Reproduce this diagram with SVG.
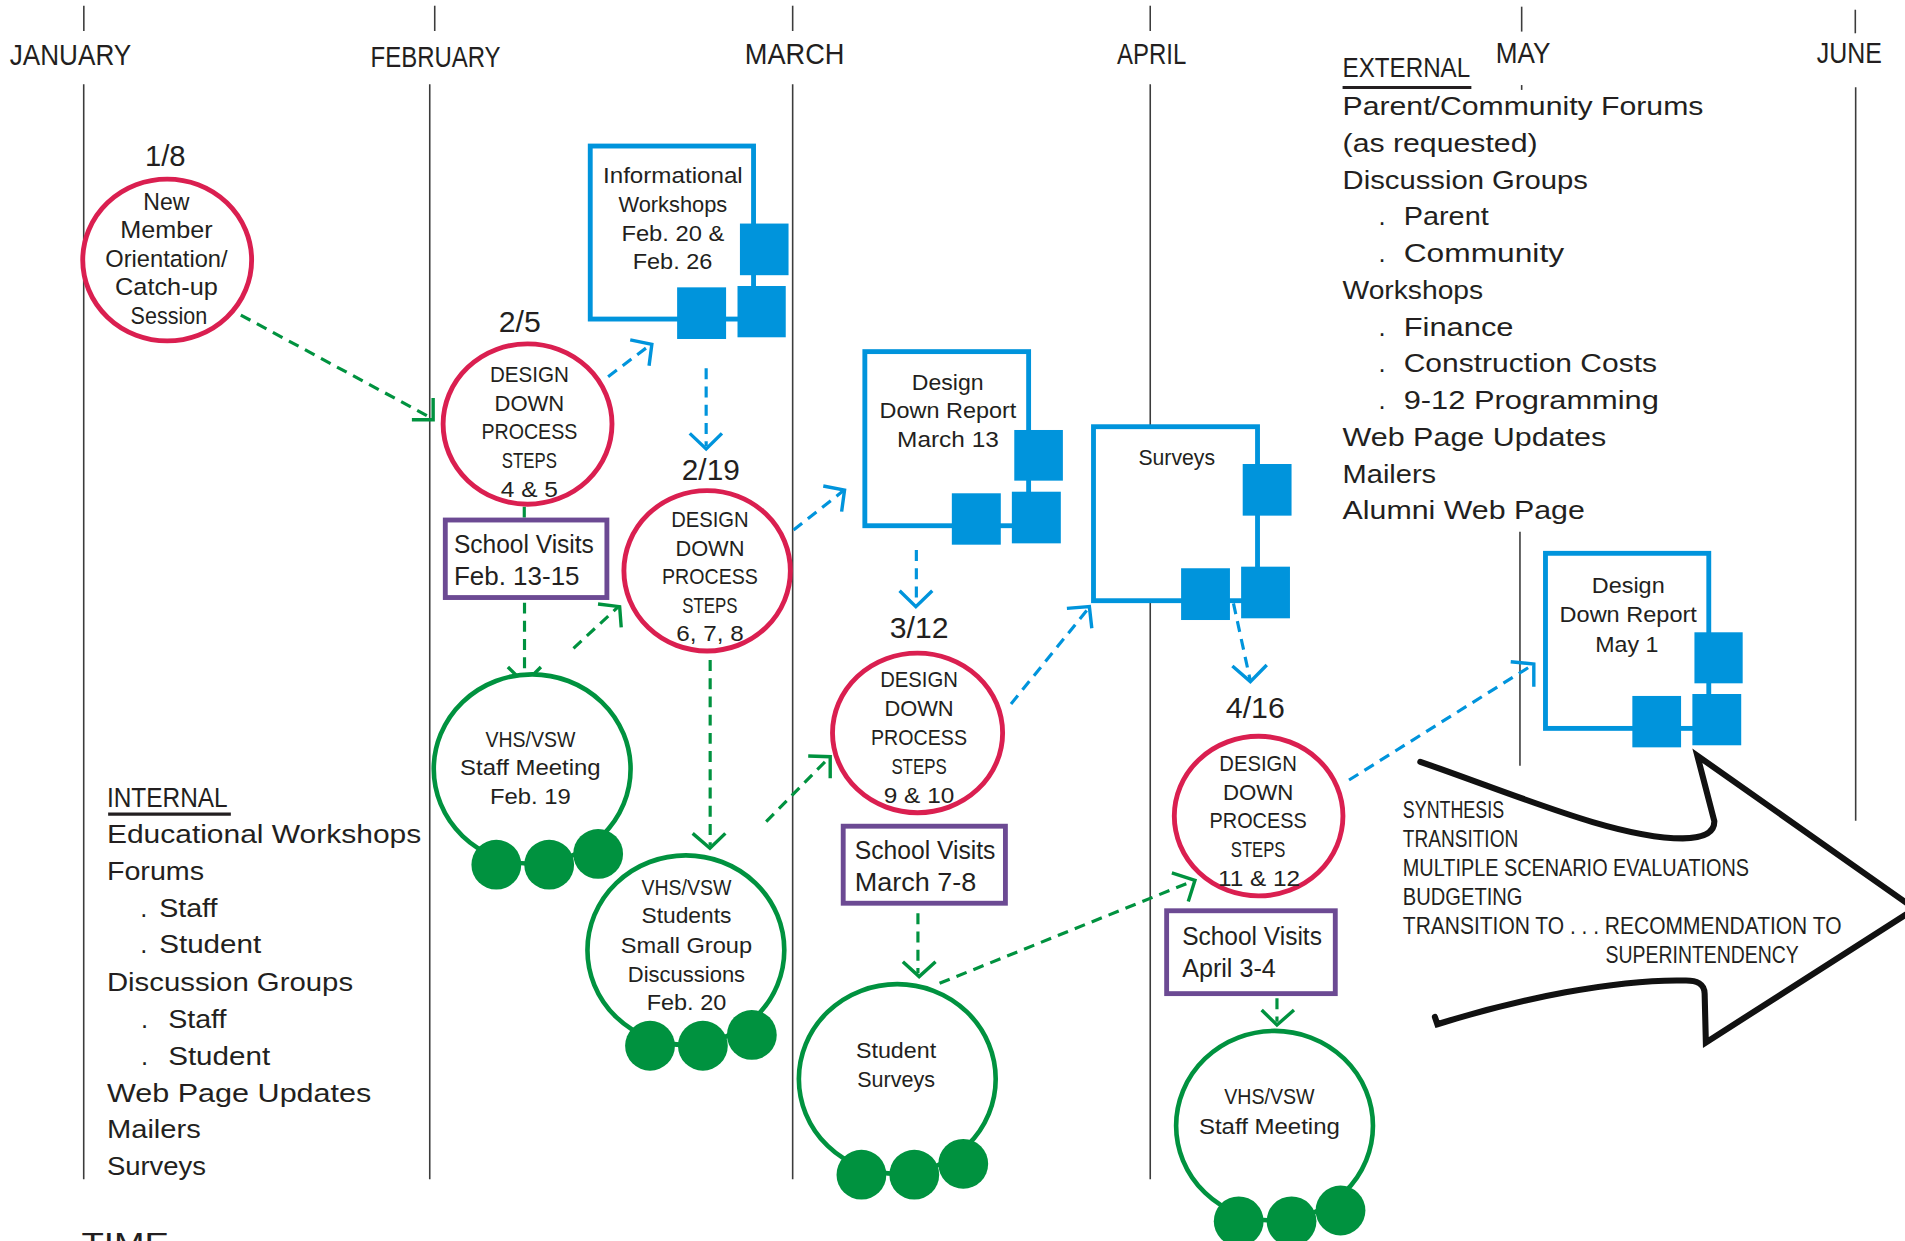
<svg xmlns="http://www.w3.org/2000/svg" width="1905" height="1241" viewBox="0 0 1905 1241">
<style>
.t{font-family:"Liberation Sans",Arial,Helvetica,sans-serif;fill:#231f20}
.c{text-anchor:middle}
.m{font-size:25px}
.l{font-size:21px}
.s{font-size:18px}
.a{font-size:19px}
.red{fill:#fff;stroke:#da1f50;stroke-width:4}
.grn{fill:#fff;stroke:#00923f;stroke-width:3.8}
.bead{fill:#00923f}
.blu{fill:#fff;stroke:#0094dc;stroke-width:4}
.sq{fill:#0094dc}
.pur{fill:#fff;stroke:#6c4a93;stroke-width:4}
.vl{stroke:#3c3c3c;stroke-width:1.3;fill:none}
.ul{stroke:#231f20;stroke-width:2.6}
.dg{fill:none;stroke:#00923f;stroke-width:2.6;stroke-dasharray:9 6}
.db{fill:none;stroke:#0094dc;stroke-width:2.6;stroke-dasharray:9 6}
.hg{fill:none;stroke:#00923f;stroke-width:2.8}
.hb{fill:none;stroke:#0094dc;stroke-width:2.8}
.big{fill:none;stroke:#111;stroke-width:5;stroke-linejoin:miter;stroke-linecap:round}
</style>
<rect width="1905" height="1241" fill="#fff"/>
<g transform="scale(1.215)">
<g id="timeline">
<line class="vl" x1="69" y1="4.7" x2="69" y2="25.5"/>
<line class="vl" x1="357.8" y1="4.7" x2="357.8" y2="25.5"/>
<line class="vl" x1="652.4" y1="4.7" x2="652.4" y2="25.5"/>
<line class="vl" x1="946.7" y1="4.7" x2="946.7" y2="25.5"/>
<line class="vl" x1="1252.4" y1="5.5" x2="1252.4" y2="26"/>
<line class="vl" x1="1527" y1="8" x2="1527" y2="27.4"/>
<line class="vl" x1="68.9" y1="69.4" x2="68.9" y2="970.6"/>
<line class="vl" x1="353.7" y1="69.4" x2="353.7" y2="970.6"/>
<line class="vl" x1="652.4" y1="69.4" x2="652.4" y2="970.6"/>
<line class="vl" x1="946.7" y1="69.4" x2="946.7" y2="970.6"/>
<line class="vl" x1="1527.3" y1="71.9" x2="1527.3" y2="675.5"/>
<line class="vl" x1="1252.4" y1="70" x2="1252.4" y2="74"/>
<line class="vl" x1="1251" y1="437.6" x2="1251" y2="630.2"/>
<text class="t m" x="8" y="53.5" textLength="100" lengthAdjust="spacingAndGlyphs">JANUARY</text>
<text class="t m" x="305" y="55" textLength="107" lengthAdjust="spacingAndGlyphs">FEBRUARY</text>
<text class="t m" x="613" y="52.7" textLength="82" lengthAdjust="spacingAndGlyphs">MARCH</text>
<text class="t m" x="919.4" y="52.7" textLength="57" lengthAdjust="spacingAndGlyphs">APRIL</text>
<text class="t m" x="1231" y="52.1" textLength="45" lengthAdjust="spacingAndGlyphs">MAY</text>
<text class="t m" x="1495.3" y="52" textLength="53.5" lengthAdjust="spacingAndGlyphs">JUNE</text>
<text class="t m" x="67" y="1031.6" textLength="72" lengthAdjust="spacingAndGlyphs">TIME</text>
</g>
<g id="external-list">
<text class="t" x="1105" y="63.6" font-size="23" textLength="105" lengthAdjust="spacingAndGlyphs">EXTERNAL</text>
<line class="ul" x1="1105" y1="72" x2="1211" y2="72"/>
<text class="t l" x="1105" y="94.7" textLength="297" lengthAdjust="spacingAndGlyphs">Parent/Community Forums</text>
<text class="t l" x="1105" y="125" textLength="160.5" lengthAdjust="spacingAndGlyphs">(as requested)</text>
<text class="t l" x="1105" y="155.2" textLength="202" lengthAdjust="spacingAndGlyphs">Discussion Groups</text>
<text class="t l" x="1134.5" y="185.5">.</text>
<text class="t l" x="1155.3" y="185.5" textLength="70" lengthAdjust="spacingAndGlyphs">Parent</text>
<text class="t l" x="1134.5" y="215.7">.</text>
<text class="t l" x="1155.3" y="215.7" textLength="132" lengthAdjust="spacingAndGlyphs">Community</text>
<text class="t l" x="1105" y="246" textLength="115.7" lengthAdjust="spacingAndGlyphs">Workshops</text>
<text class="t l" x="1134.5" y="276.2">.</text>
<text class="t l" x="1155.3" y="276.2" textLength="90.4" lengthAdjust="spacingAndGlyphs">Finance</text>
<text class="t l" x="1134.5" y="306.5">.</text>
<text class="t l" x="1155.3" y="306.5" textLength="208.5" lengthAdjust="spacingAndGlyphs">Construction Costs</text>
<text class="t l" x="1134.5" y="336.7">.</text>
<text class="t l" x="1155.3" y="336.7" textLength="210" lengthAdjust="spacingAndGlyphs">9-12 Programming</text>
<text class="t l" x="1105" y="367" textLength="217" lengthAdjust="spacingAndGlyphs">Web Page Updates</text>
<text class="t l" x="1105" y="397.2" textLength="77" lengthAdjust="spacingAndGlyphs">Mailers</text>
<text class="t l" x="1105" y="427.5" textLength="199.4" lengthAdjust="spacingAndGlyphs">Alumni Web Page</text>
</g>
<g id="internal-list">
<text class="t" x="88" y="663.9" font-size="23" textLength="99.4" lengthAdjust="spacingAndGlyphs">INTERNAL</text>
<line class="ul" x1="89" y1="670" x2="190" y2="670"/>
<text class="t l" x="88" y="694.1" textLength="258.7" lengthAdjust="spacingAndGlyphs">Educational Workshops</text>
<text class="t l" x="88" y="724.3" textLength="80" lengthAdjust="spacingAndGlyphs">Forums</text>
<text class="t l" x="115.5" y="754.5">.</text>
<text class="t l" x="131" y="754.5" textLength="48" lengthAdjust="spacingAndGlyphs">Staff</text>
<text class="t l" x="115.5" y="784.6">.</text>
<text class="t l" x="131" y="784.6" textLength="84" lengthAdjust="spacingAndGlyphs">Student</text>
<text class="t l" x="88" y="815.4" textLength="202.6" lengthAdjust="spacingAndGlyphs">Discussion Groups</text>
<text class="t l" x="116" y="846.4">.</text>
<text class="t l" x="138.4" y="846.4" textLength="48" lengthAdjust="spacingAndGlyphs">Staff</text>
<text class="t l" x="116" y="876.5">.</text>
<text class="t l" x="138.4" y="876.5" textLength="84" lengthAdjust="spacingAndGlyphs">Student</text>
<text class="t l" x="88" y="906.7" textLength="217.7" lengthAdjust="spacingAndGlyphs">Web Page Updates</text>
<text class="t l" x="88" y="936.9" textLength="77.3" lengthAdjust="spacingAndGlyphs">Mailers</text>
<text class="t l" x="88" y="967.1" textLength="81.6" lengthAdjust="spacingAndGlyphs">Surveys</text>
</g>
<g id="connectors">
<path class="dg" d="M198.2,259.3 L355,344"/>
<polyline class="hg" points="356.5,327.5 356.5,345.5 339,345.5"/>
<path class="dg" d="M431.5,417 L431.5,426"/>
<path class="dg" d="M431.7,496 L431.7,560"/>
<polyline class="hg" points="418,549 431.7,562.5 445.2,549"/>
<path class="dg" d="M472,533.6 L509,499.3"/>
<polyline class="hg" points="492.2,497.1 510,499.3 511.3,516.3"/>
<path class="dg" d="M584.5,543.2 L584.5,696"/>
<polyline class="hg" points="570.1,685.9 584.3,698.2 597,685.9"/>
<path class="dg" d="M630.6,676.3 L682,624"/>
<polyline class="hg" points="665.2,622.2 683.3,622.8 683.3,640.6"/>
<path class="dg" d="M755.5,751.7 L755.5,801"/>
<polyline class="hg" points="743.1,791.5 756.5,803.8 770,791.5"/>
<path class="dg" d="M773.3,809.3 L981,725.5"/>
<polyline class="hg" points="964.5,718.5 983.5,724.5 978,742"/>
<path class="dg" d="M1051,821.7 L1051,841"/>
<polyline class="hg" points="1038.4,831.3 1051,843.6 1065,831.3"/>
<path class="db" d="M500.5,310 L535,284"/>
<polyline class="hb" points="518.7,279.8 536.5,283.4 534.2,301"/>
<path class="db" d="M581.2,303.1 L581.2,367"/>
<polyline class="hb" points="567.7,356.7 581.2,369.5 594.2,356.7"/>
<path class="db" d="M653.1,436.2 L694,404"/>
<polyline class="hb" points="677.6,400 695.1,403.3 692.7,421.1"/>
<path class="db" d="M754.2,452.7 L754.2,497"/>
<polyline class="hb" points="740.4,486.2 753.8,499.3 767.3,486.2"/>
<path class="db" d="M832.1,579.4 L896,500.5"/>
<polyline class="hb" points="878.1,500.7 896.6,499.3 898.6,517.1"/>
<path class="db" d="M1015.2,496.6 L1028.8,559"/>
<polyline class="hb" points="1014.3,548.1 1029.1,561 1042.6,547.3"/>
<path class="db" d="M1110.3,642 L1261,547.5"/>
<polyline class="hb" points="1243.4,544.6 1262.4,546.5 1262.4,565.2"/>
</g>
<g id="node-1-8">
<text class="t c" x="136" y="136.4" font-size="25" textLength="33.5" lengthAdjust="spacingAndGlyphs">1/8</text>
<ellipse class="red" cx="137.6" cy="214" rx="69.5" ry="66.6"/>
<text class="t c a" x="137" y="172.8" textLength="38" lengthAdjust="spacingAndGlyphs">New</text>
<text class="t c a" x="137" y="196.1" textLength="76" lengthAdjust="spacingAndGlyphs">Member</text>
<text class="t c a" x="137" y="219.5" textLength="100.7" lengthAdjust="spacingAndGlyphs">Orientation/</text>
<text class="t c a" x="137" y="242.8" textLength="84.6" lengthAdjust="spacingAndGlyphs">Catch-up</text>
<text class="t c a" x="139" y="266.7" textLength="63" lengthAdjust="spacingAndGlyphs">Session</text>
</g>
<g id="node-2-5">
<text class="t c" x="427.8" y="273" font-size="25" textLength="34.6" lengthAdjust="spacingAndGlyphs">2/5</text>
<ellipse class="red" cx="434.2" cy="349" rx="69.5" ry="66"/>
<text class="t c s" x="435.7" y="314.2" textLength="65" lengthAdjust="spacingAndGlyphs">DESIGN</text>
<text class="t c s" x="435.7" y="338" textLength="57.4" lengthAdjust="spacingAndGlyphs">DOWN</text>
<text class="t c s" x="435.7" y="361.6" textLength="79" lengthAdjust="spacingAndGlyphs">PROCESS</text>
<text class="t c s" x="435.7" y="385.5" textLength="45.3" lengthAdjust="spacingAndGlyphs">STEPS</text>
<text class="t c s" x="435.7" y="408.8" textLength="47" lengthAdjust="spacingAndGlyphs">4 &amp; 5</text>
</g>
<g id="node-info-workshops">
<rect class="blu" x="485.8" y="120.2" width="134.4" height="142.4"/>
<rect class="sq" x="609" y="184" width="40" height="42.5"/>
<rect class="sq" x="557.3" y="236.5" width="40.3" height="42.5"/>
<rect class="sq" x="607" y="235.4" width="39.7" height="42.2"/>
<text class="t c s" x="553.8" y="150.9" textLength="115" lengthAdjust="spacingAndGlyphs">Informational</text>
<text class="t c s" x="553.8" y="174.2" textLength="89.6" lengthAdjust="spacingAndGlyphs">Workshops</text>
<text class="t c s" x="553.8" y="198.1" textLength="84.7" lengthAdjust="spacingAndGlyphs">Feb. 20 &amp;</text>
<text class="t c s" x="553.5" y="221.7" textLength="65.5" lengthAdjust="spacingAndGlyphs">Feb. 26</text>
</g>
<g id="node-school-visits-feb">
<rect class="pur" x="366.5" y="428" width="133" height="63.8"/>
<text class="t l" x="373.6" y="455.4" textLength="115.2" lengthAdjust="spacingAndGlyphs">School Visits</text>
<text class="t l" x="373.6" y="481.5" textLength="103.4" lengthAdjust="spacingAndGlyphs">Feb. 13-15</text>
</g>
<g id="node-staff-feb19">
<ellipse class="grn" cx="438" cy="633" rx="81" ry="78"/>
<ellipse class="bead" cx="408.5" cy="711.7" rx="20.5" ry="20.5"/>
<ellipse class="bead" cx="452" cy="711.7" rx="20.5" ry="20.5"/>
<ellipse class="bead" cx="492.3" cy="702.8" rx="20.5" ry="20.5"/>
<text class="t c s" x="436.5" y="614.6" textLength="74" lengthAdjust="spacingAndGlyphs">VHS/VSW</text>
<text class="t c s" x="436.5" y="637.9" textLength="115.6" lengthAdjust="spacingAndGlyphs">Staff Meeting</text>
<text class="t c s" x="436.5" y="661.7" textLength="66.5" lengthAdjust="spacingAndGlyphs">Feb. 19</text>
</g>
<g id="node-2-19">
<text class="t c" x="585" y="395" font-size="25" textLength="47.7" lengthAdjust="spacingAndGlyphs">2/19</text>
<ellipse class="red" cx="582" cy="469.8" rx="68.5" ry="66"/>
<text class="t c s" x="584.3" y="433.5" textLength="63.8" lengthAdjust="spacingAndGlyphs">DESIGN</text>
<text class="t c s" x="584.3" y="457.3" textLength="56.8" lengthAdjust="spacingAndGlyphs">DOWN</text>
<text class="t c s" x="584.3" y="480.8" textLength="79" lengthAdjust="spacingAndGlyphs">PROCESS</text>
<text class="t c s" x="584.3" y="504.4" textLength="45.5" lengthAdjust="spacingAndGlyphs">STEPS</text>
<text class="t c s" x="584.3" y="527.8" textLength="55.5" lengthAdjust="spacingAndGlyphs">6, 7, 8</text>
</g>
<g id="node-students-feb20">
<ellipse class="grn" cx="564.5" cy="782" rx="81" ry="78"/>
<ellipse class="bead" cx="535" cy="860.7" rx="20.5" ry="20.5"/>
<ellipse class="bead" cx="578.5" cy="860.7" rx="20.5" ry="20.5"/>
<ellipse class="bead" cx="618.8" cy="851.8" rx="20.5" ry="20.5"/>
<text class="t c s" x="565" y="736.6" textLength="74" lengthAdjust="spacingAndGlyphs">VHS/VSW</text>
<text class="t c s" x="565" y="760" textLength="74" lengthAdjust="spacingAndGlyphs">Students</text>
<text class="t c s" x="565" y="784.1" textLength="108" lengthAdjust="spacingAndGlyphs">Small Group</text>
<text class="t c s" x="565" y="808" textLength="96.5" lengthAdjust="spacingAndGlyphs">Discussions</text>
<text class="t c s" x="565" y="831.3" textLength="65.5" lengthAdjust="spacingAndGlyphs">Feb. 20</text>
</g>
<g id="node-report-march13">
<rect class="blu" x="711.8" y="289.4" width="134.8" height="143.3"/>
<rect class="sq" x="834.8" y="353.9" width="40" height="41.7"/>
<rect class="sq" x="783.4" y="406" width="40.3" height="42.3"/>
<rect class="sq" x="832.8" y="404.7" width="40.3" height="42.5"/>
<text class="t c s" x="780" y="321" textLength="59" lengthAdjust="spacingAndGlyphs">Design</text>
<text class="t c s" x="780.2" y="344.3" textLength="112.5" lengthAdjust="spacingAndGlyphs">Down Report</text>
<text class="t c s" x="780.2" y="367.6" textLength="83.7" lengthAdjust="spacingAndGlyphs">March 13</text>
</g>
<g id="node-3-12">
<text class="t c" x="756.5" y="525.4" font-size="25" textLength="48.4" lengthAdjust="spacingAndGlyphs">3/12</text>
<ellipse class="red" cx="755.2" cy="603.2" rx="70" ry="65.7"/>
<text class="t c s" x="756.4" y="565.7" textLength="64" lengthAdjust="spacingAndGlyphs">DESIGN</text>
<text class="t c s" x="756.4" y="589.3" textLength="57" lengthAdjust="spacingAndGlyphs">DOWN</text>
<text class="t c s" x="756.4" y="613.2" textLength="79" lengthAdjust="spacingAndGlyphs">PROCESS</text>
<text class="t c s" x="756.4" y="637.3" textLength="45.5" lengthAdjust="spacingAndGlyphs">STEPS</text>
<text class="t c s" x="756.4" y="660.6" textLength="58" lengthAdjust="spacingAndGlyphs">9 &amp; 10</text>
</g>
<g id="node-school-visits-march">
<rect class="pur" x="694" y="680" width="133.5" height="63.4"/>
<text class="t l" x="703.5" y="707.3" textLength="115.8" lengthAdjust="spacingAndGlyphs">School Visits</text>
<text class="t l" x="703.5" y="733.3" textLength="100" lengthAdjust="spacingAndGlyphs">March 7-8</text>
</g>
<g id="node-student-surveys">
<ellipse class="grn" cx="738.5" cy="888" rx="81" ry="78"/>
<ellipse class="bead" cx="709" cy="966.8" rx="20.5" ry="20.5"/>
<ellipse class="bead" cx="752.5" cy="966.8" rx="20.5" ry="20.5"/>
<ellipse class="bead" cx="792.8" cy="957.9" rx="20.5" ry="20.5"/>
<text class="t c s" x="737.5" y="871" textLength="66" lengthAdjust="spacingAndGlyphs">Student</text>
<text class="t c s" x="737.5" y="894.4" textLength="64" lengthAdjust="spacingAndGlyphs">Surveys</text>
</g>
<g id="node-surveys">
<rect class="blu" x="900" y="351.2" width="135" height="143.2"/>
<rect class="sq" x="1022.8" y="381.9" width="40.2" height="42.5"/>
<rect class="sq" x="972.1" y="467.7" width="40.2" height="42.6"/>
<rect class="sq" x="1021.5" y="466.4" width="40.2" height="42.5"/>
<text class="t c s" x="968.5" y="382.7" textLength="63" lengthAdjust="spacingAndGlyphs">Surveys</text>
</g>
<g id="node-4-16">
<text class="t c" x="1033.2" y="591.2" font-size="25" textLength="48.6" lengthAdjust="spacingAndGlyphs">4/16</text>
<ellipse class="red" cx="1035.9" cy="671.7" rx="69.4" ry="65.7"/>
<text class="t c s" x="1035.5" y="634.8" textLength="64" lengthAdjust="spacingAndGlyphs">DESIGN</text>
<text class="t c s" x="1035.5" y="658.4" textLength="58" lengthAdjust="spacingAndGlyphs">DOWN</text>
<text class="t c s" x="1035.5" y="681.7" textLength="80" lengthAdjust="spacingAndGlyphs">PROCESS</text>
<text class="t c s" x="1035.5" y="705.6" textLength="45" lengthAdjust="spacingAndGlyphs">STEPS</text>
<text class="t c s" x="1036.3" y="729.2" textLength="67.6" lengthAdjust="spacingAndGlyphs">11 &amp; 12</text>
</g>
<g id="node-school-visits-april">
<rect class="pur" x="960.2" y="749.6" width="138.8" height="68.2"/>
<text class="t l" x="973" y="777.8" textLength="115" lengthAdjust="spacingAndGlyphs">School Visits</text>
<text class="t l" x="973" y="803.8" textLength="77" lengthAdjust="spacingAndGlyphs">April 3-4</text>
</g>
<g id="node-staff-april">
<ellipse class="grn" cx="1049" cy="926.5" rx="81" ry="78"/>
<ellipse class="bead" cx="1019.5" cy="1005.2" rx="20.5" ry="20.5"/>
<ellipse class="bead" cx="1063" cy="1005.2" rx="20.5" ry="20.5"/>
<ellipse class="bead" cx="1103.3" cy="996.3" rx="20.5" ry="20.5"/>
<text class="t c s" x="1044.8" y="908.6" textLength="74.4" lengthAdjust="spacingAndGlyphs">VHS/VSW</text>
<text class="t c s" x="1044.8" y="933.3" textLength="116" lengthAdjust="spacingAndGlyphs">Staff Meeting</text>
</g>
<g id="node-report-may1">
<rect class="blu" x="1272" y="455.4" width="134.4" height="144.1"/>
<rect class="sq" x="1394.6" y="520.4" width="39.7" height="42"/>
<rect class="sq" x="1343.5" y="572.8" width="40.1" height="42.3"/>
<rect class="sq" x="1392.9" y="571.2" width="40.2" height="42.2"/>
<text class="t c s" x="1340.1" y="488.3" textLength="60" lengthAdjust="spacingAndGlyphs">Design</text>
<text class="t c s" x="1340.1" y="512.2" textLength="113" lengthAdjust="spacingAndGlyphs">Down Report</text>
<text class="t c s" x="1339" y="536.4" textLength="52" lengthAdjust="spacingAndGlyphs">May 1</text>
</g>
<g id="node-big-arrow">
<path class="big" d="M1169,627 C1250,655 1330,690 1385,690 Q1411,690 1411,676 L1397,622 L1576,748 L1404,858 L1403,818 Q1403,806 1385,807 C1330,806 1250,822 1183,843 L1181,837"/>
<text class="t a" x="1154.6" y="673.5" textLength="83.3" lengthAdjust="spacingAndGlyphs">SYNTHESIS</text>
<text class="t a" x="1154.6" y="697.4" textLength="95" lengthAdjust="spacingAndGlyphs">TRANSITION</text>
<text class="t a" x="1154.6" y="721" textLength="285" lengthAdjust="spacingAndGlyphs">MULTIPLE SCENARIO EVALUATIONS</text>
<text class="t a" x="1154.6" y="744.9" textLength="98.5" lengthAdjust="spacingAndGlyphs">BUDGETING</text>
<text class="t a" x="1154.6" y="768.7" textLength="361" lengthAdjust="spacingAndGlyphs">TRANSITION TO . . . RECOMMENDATION TO</text>
<text class="t a" x="1321.5" y="792.3" textLength="159" lengthAdjust="spacingAndGlyphs">SUPERINTENDENCY</text>
</g>
</g>
</svg>
